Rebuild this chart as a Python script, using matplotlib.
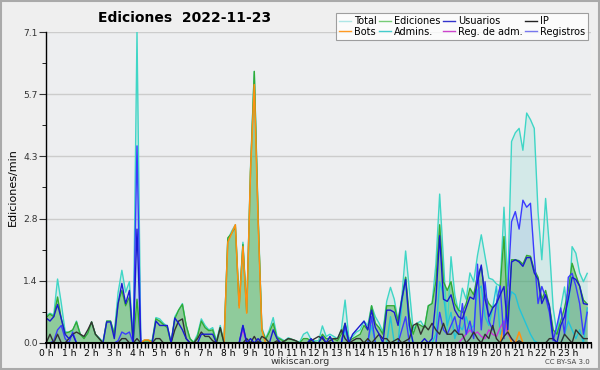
import numpy as np
import matplotlib
matplotlib.use("Agg")
import matplotlib.pyplot as plt
from matplotlib.lines import Line2D
from matplotlib.patches import Rectangle

# 10-minute bins over the day (6 per hour)
total = [
    0.62, 0.68, 0.64, 1.46, 0.9, 0.26,
    0.24, 0.28, 0.5, 0.2, 0.12, 0.24,
    0.48, 0.2, 0.12, 0.02, 0.5, 0.5,
    0.24, 1.15, 1.66, 1.16, 1.4, 0.02,
    7.1, 0.02, 0.07, 0.07, 0.05, 0.58,
    0.55, 0.45, 0.38, 0.02, 0.6, 0.75,
    0.9, 0.4, 0.1, 0.02, 0.2, 0.55,
    0.4, 0.3, 0.35, 0.05, 0.4, 0.02,
    2.35, 2.55, 2.7, 0.9, 2.3, 0.72,
    4.0, 6.2, 3.0, 0.35, 0.1, 0.3,
    0.58, 0.15, 0.1, 0.05, 0.12, 0.08,
    0.05, 0.02, 0.2, 0.25, 0.08, 0.05,
    0.05, 0.39, 0.15, 0.2, 0.15, 0.1,
    0.3, 0.98, 0.1, 0.15, 0.25, 0.3,
    0.5, 0.4, 0.85, 0.6, 0.45, 0.25,
    0.95, 1.27, 1.0, 0.5, 1.05, 2.1,
    1.2, 0.3, 0.45, 0.5, 0.35, 0.85,
    0.9, 1.8, 3.4, 1.9, 0.3, 1.97,
    1.1, 0.7, 1.25, 1.0, 1.6, 1.4,
    2.0, 2.47, 1.97, 1.48, 1.45, 1.35,
    1.3, 3.1, 1.3, 4.6, 4.8, 4.9,
    4.4, 5.25, 5.1, 4.9, 3.0, 1.9,
    3.3, 2.2, 0.8, 0.2, 0.8, 1.28,
    0.5, 2.2, 2.05, 1.6, 1.4, 1.59,
]
ediciones = [
    0.58, 0.66, 0.6, 1.05, 0.55, 0.22,
    0.25, 0.3, 0.48, 0.2, 0.1, 0.22,
    0.48, 0.2, 0.1, 0.0, 0.5, 0.5,
    0.2, 0.9, 1.2, 0.85, 1.05, 0.0,
    1.0, 0.0, 0.05, 0.05, 0.03, 0.55,
    0.5, 0.42, 0.35, 0.0, 0.55, 0.75,
    0.88, 0.4, 0.1, 0.0, 0.15, 0.5,
    0.35, 0.28, 0.3, 0.02, 0.35, 0.0,
    2.4, 2.5, 2.65, 0.85, 2.25, 0.7,
    3.9, 6.2, 2.9, 0.3, 0.08, 0.25,
    0.45, 0.12, 0.08, 0.03, 0.1, 0.08,
    0.05, 0.0, 0.1, 0.1, 0.05, 0.02,
    0.0, 0.2, 0.1, 0.1, 0.1, 0.05,
    0.2, 0.45, 0.05, 0.1, 0.15, 0.2,
    0.4, 0.3, 0.85, 0.45, 0.35, 0.2,
    0.85, 0.85, 0.85, 0.5, 1.0, 1.5,
    0.6, 0.2, 0.45, 0.4, 0.35, 0.85,
    0.9, 1.4, 2.7, 1.4, 1.2, 1.4,
    0.9, 0.75, 0.7, 0.9, 1.25, 1.1,
    1.55, 1.74, 1.1, 0.9, 0.8, 0.9,
    1.28, 2.43, 0.55, 1.9, 1.9, 1.88,
    1.8, 2.0, 1.98, 1.67, 1.5, 1.0,
    1.2, 0.85, 0.3, 0.2, 0.5, 0.8,
    1.2, 1.82, 1.55, 1.3, 0.98, 0.89,
]
usuarios = [
    0.57, 0.5, 0.6, 0.88, 0.55, 0.2,
    0.1, 0.2, 0.0, 0.0, 0.0, 0.0,
    0.0, 0.0, 0.0, 0.0, 0.48, 0.48,
    0.1, 0.9, 1.36, 0.9, 1.2, 0.0,
    2.6, 0.0, 0.0, 0.0, 0.0, 0.5,
    0.4, 0.4, 0.4, 0.0, 0.57, 0.45,
    0.3, 0.1, 0.0, 0.0, 0.0, 0.2,
    0.2, 0.2, 0.2, 0.0, 0.0, 0.0,
    0.0, 0.0, 0.0, 0.0, 0.4, 0.0,
    0.1, 0.0, 0.1, 0.0, 0.0, 0.0,
    0.3, 0.1, 0.0, 0.0, 0.0, 0.0,
    0.0, 0.0, 0.0, 0.0, 0.1, 0.0,
    0.0, 0.15, 0.0, 0.15, 0.0, 0.0,
    0.0, 0.45, 0.0, 0.2, 0.3, 0.4,
    0.5, 0.3, 0.75, 0.35, 0.2, 0.0,
    0.75, 0.75, 0.7, 0.4, 1.0, 1.45,
    0.4, 0.0, 0.0, 0.0, 0.1, 0.0,
    0.1, 1.0, 2.45, 1.0, 0.95, 1.1,
    0.75, 0.6, 0.55, 0.8, 1.05, 1.0,
    1.4, 1.78, 1.0, 0.6, 0.8, 0.9,
    1.1, 1.29, 0.3, 1.85, 1.9, 1.85,
    1.75, 1.95, 1.95, 1.6, 1.45, 0.9,
    1.1, 0.85, 0.1, 0.0, 0.4, 0.6,
    1.0, 1.5, 1.45, 1.3, 0.9, 0.88,
]
ip = [
    0.0, 0.2, 0.0, 0.2, 0.0, 0.0,
    0.1, 0.2, 0.25, 0.2, 0.15, 0.3,
    0.48, 0.2, 0.1, 0.0, 0.0, 0.0,
    0.0, 0.0, 0.1, 0.1, 0.0, 0.0,
    0.1, 0.0, 0.0, 0.0, 0.0, 0.1,
    0.1, 0.0, 0.0, 0.0, 0.3, 0.5,
    0.55, 0.1, 0.0, 0.0, 0.1, 0.25,
    0.15, 0.15, 0.05, 0.0, 0.35, 0.0,
    0.0, 0.0, 0.0, 0.0, 0.0, 0.1,
    0.0, 0.15, 0.0, 0.15, 0.1, 0.0,
    0.0, 0.05, 0.0, 0.05, 0.1, 0.08,
    0.05, 0.0, 0.0, 0.0, 0.05, 0.1,
    0.15, 0.1, 0.0, 0.05, 0.1, 0.1,
    0.3, 0.1, 0.0, 0.05, 0.1, 0.1,
    0.0, 0.1, 0.0, 0.1, 0.2, 0.1,
    0.1, 0.0, 0.05, 0.1, 0.0, 0.05,
    0.1, 0.4, 0.45, 0.2, 0.4, 0.3,
    0.45, 0.3, 0.2, 0.45, 0.2, 0.2,
    0.3, 0.2, 0.2, 0.0, 0.1, 0.25,
    0.1, 0.0, 0.2, 0.1, 0.4, 0.1,
    0.0, 0.15, 0.25, 0.1, 0.0, 0.05,
    0.0, 0.0, 0.0, 0.0, 0.0, 0.0,
    0.0, 0.1, 0.1, 0.0, 0.0, 0.2,
    0.1, 0.0, 0.3, 0.2, 0.1, 0.1,
]
bots = [0.0] * 144
bots_spikes = {26: 0.07, 27: 0.07, 48: 2.3, 49: 2.5, 50: 2.7, 51: 0.8, 52: 2.2,
               53: 0.68, 54: 3.9, 55: 5.9, 56: 2.8, 57: 0.3, 121: 0.5, 122: 0.3,
               125: 0.25}
admins = [
    0, 0, 0, 0, 0, 0, 0, 0, 0, 0, 0, 0,
    0, 0, 0, 0, 0, 0, 0, 0, 0, 0, 0, 0,
    0, 0, 0, 0, 0, 0, 0, 0, 0, 0, 0, 0,
    0, 0, 0, 0, 0, 0, 0, 0, 0, 0, 0, 0,
    0, 0, 0, 0, 0, 0, 0, 0, 0, 0, 0, 0,
    0, 0, 0, 0, 0, 0, 0, 0, 0, 0, 0, 0,
    0, 0, 0, 0, 0, 0,
    0.0, 0.3, 0.0, 0.0, 0.0, 0.0,
    0.0, 0.0, 0.4, 0.0, 0.0, 0.0,
    0.0, 0.6, 0.0, 0.0, 0.9, 1.5,
    0.3, 0.0, 0.0, 0.0, 0.0, 0.0,
    0.0, 0.2, 1.4, 1.1, 0.4, 0.7,
    0.1, 0.4, 0.3, 0.6, 0.3, 0.4,
    1.2, 1.3, 0.6, 0.4, 0.8, 1.3,
    0.2, 0.4, 0.8, 1.17, 1.1, 0.8,
    0.6, 0.4, 0.2, 0.05, 0.0, 0.0,
    0.0, 0.0, 0.0, 0.0, 0.0, 0.2,
    0.5, 0.3, 0.1, 0.3, 0.0, 0.8,
]
reg_adm = [0.0] * 144
reg_adm_points = {52: 0.3, 110: 0.1, 111: 0.2, 112: 0.3, 113: 0.2, 114: 0.25,
                  115: 0.15, 116: 0.1, 117: 0.3, 118: 0.2, 119: 0.15, 120: 0.35,
                  121: 0.5, 122: 0.2, 123: 0.1}
registros = [
    0.0, 0.0, 0.05, 0.3, 0.4, 0.1,
    0.0, 0.25, 0.0, 0.0, 0.0, 0.0,
    0, 0, 0, 0, 0, 0,
    0.0, 0.05, 0.25, 0.2, 0.25, 0.0,
    4.5, 0, 0, 0, 0, 0,
    0, 0, 0, 0, 0, 0,
    0, 0, 0, 0, 0, 0,
    0, 0, 0, 0, 0, 0,
    0, 0, 0, 0, 0.4, 0,
    0, 0, 0, 0, 0, 0,
    0, 0, 0, 0, 0, 0,
    0, 0, 0, 0, 0, 0,
    0, 0, 0, 0, 0, 0,
    0, 0.4, 0, 0, 0, 0,
    0, 0, 0.6, 0, 0, 0,
    0, 0, 0, 0, 0.3, 0.6,
    0, 0, 0, 0, 0, 0,
    0, 0, 0.7, 0.3, 0.2, 0.4,
    0.6, 0.2, 0.9, 0.2, 0.5, 0.1,
    1.8, 0.3, 1.4, 0.5, 0.3, 0.9,
    1.3, 0.1, 1.2, 2.77, 3.0, 2.6,
    3.26, 3.1, 3.19, 1.97, 0.9, 1.29,
    1.05, 0.7, 0.05, 0.4, 0.8, 0.2,
    1.5, 1.59, 1.3, 0.9, 0.2, 0.7,
]
for k, v in bots_spikes.items():
    bots[k] = v
for k, v in reg_adm_points.items():
    reg_adm[k] = v

hour_labels = ["%d h" % h for h in range(24)]
ymax = 7.1

t = np.arange(144) / 6.0

fig = plt.figure(figsize=(6, 3.7), dpi=100, facecolor="#efefef")
ax = fig.add_axes([0.077, 0.073, 0.908, 0.8405])
ax.set_facecolor("#edeef0")

# rellenos
ax.fill_between(t, total, color="#40d0c0", alpha=0.15, lw=0)
ax.fill_between(t, ediciones, color="#4caf50", alpha=0.5, lw=0)
ax.fill_between(t, registros, color="#3366dd", alpha=0.1, lw=0)

# lineas
ax.plot(t, total, color="#3fd6c6", lw=1)
ax.plot(t, admins, color="#22c4d8", lw=1)
ax.plot(t, ediciones, color="#33aa33", lw=1)
ax.plot(t, bots, color="#ff9010", lw=1.1)
ax.plot(t, reg_adm, color="#cc33dd", lw=1)
ax.plot(t, registros, color="#3b3bff", lw=1)
ax.plot(t, ip, color="#333333", lw=1)
ax.plot(t, usuarios, color="#1a1ad0", lw=1)

ax.set_xlim(0, 24)
ax.set_ylim(0, ymax)
yt = [ymax * k / 5 for k in range(6)]
ax.set_yticks(yt)
ax.set_yticklabels(["%.1f" % v for v in yt])
ax.set_yticks([ymax * (k + 0.5) / 5 for k in range(5)], minor=True)
ax.set_xticks(range(24))
ax.set_xticklabels(hour_labels)
ax.set_xticks(np.arange(0, 24.01, 1 / 6.0), minor=True)
ax.yaxis.grid(True, color="#cccccc", lw=1)
ax.set_axisbelow(True)
for s in ["top", "right"]:
    ax.spines[s].set_visible(False)
ax.spines["left"].set_linewidth(1)
ax.spines["bottom"].set_linewidth(1.5)
ax.tick_params(axis="x", which="both", length=3.5, width=1, labelsize=6.6, pad=0.5)
ax.tick_params(axis="y", which="major", length=5, labelsize=6.6, pad=1, colors="#333333")
ax.tick_params(axis="y", which="minor", length=3)
ax.set_ylabel("Ediciones/min", fontsize=8, labelpad=4)

fig.text(0.308, 0.951, "Ediciones  2022-11-23", fontsize=10, fontweight="bold",
         ha="center", va="center")

handles = [
    Line2D([], [], color="#aee6e6", lw=1), Line2D([], [], color="#ff9922", lw=1),
    Line2D([], [], color="#77cc77", lw=1), Line2D([], [], color="#44cccc", lw=1),
    Line2D([], [], color="#3333cc", lw=1), Line2D([], [], color="#cc44cc", lw=1),
    Line2D([], [], color="#222222", lw=1), Line2D([], [], color="#7777ee", lw=1),
]
labels = ["Total", "Bots", "Ediciones", "Admins.", "Usuarios", "Reg. de adm.",
          "IP", "Registros"]
leg = fig.legend(handles, labels, ncol=4, loc="upper right",
                 bbox_to_anchor=(0.988, 0.977), fontsize=7, frameon=True,
                 fancybox=False, edgecolor="#888888", handlelength=1.2,
                 handletextpad=0.3, columnspacing=0.3, labelspacing=0.05,
                 borderpad=0.3)
leg.get_frame().set_linewidth(0.8)

fig.text(0.5, 0.022, "wikiscan.org", fontsize=6.8, ha="center", va="center",
         color="#333333")
fig.text(0.983, 0.022, "CC BY-SA 3.0", fontsize=5, ha="right", va="center",
         color="#444444")
fig.patches.append(Rectangle((0.002, 0.003), 0.996, 0.994, transform=fig.transFigure,
                             fill=False, edgecolor="#aaaaaa", lw=1.5))

fig.savefig("out.png", dpi=100, facecolor=fig.get_facecolor())
